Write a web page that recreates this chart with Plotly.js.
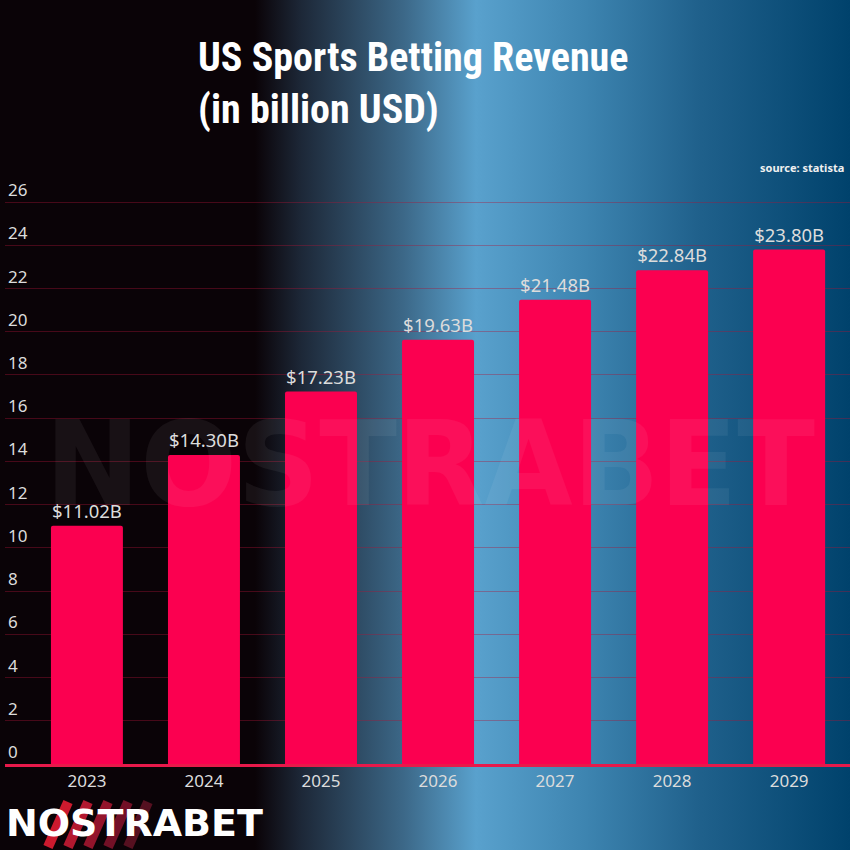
<!DOCTYPE html>
<html>
<head>
<meta charset="utf-8">
<script src="https://cdn.plot.ly/plotly-3.0.1.min.js"></script>
<style>
  html, body { margin: 0; padding: 0; }
  body {
    width: 850px; height: 850px; overflow: hidden;
    background: linear-gradient(to right,
      #0a0307 0%, #0a0307 30%, #1d2838 35.5%, #3c6888 47.5%,
      #59a1cd 56%, #3d84b0 69%, #20618c 82%, #00426c 100%);
  }
  #chart { width: 850px; height: 850px; }
</style>
</head>
<body>
<div id="chart"></div>
<script>
const years = ['2023', '2024', '2025', '2026', '2027', '2028', '2029'];
const revenue = [11.02, 14.30, 17.23, 19.63, 21.48, 22.84, 23.80];
const yTicks = [0, 2, 4, 6, 8, 10, 12, 14, 16, 18, 20, 22, 24, 26];

const barColor = '#fb0050';
const textColor = '#dcdcdc';
const baseFont = 'Noto Sans, Open Sans, sans-serif';

// plot geometry: y=0 at 764px, 26 at 202px
const pxPerUnit = (764 - 202) / 26;
const topPx = 174;
const yMax = 26 + (202 - topPx) / pxPerUnit;
const plotH = 764 - topPx;

const trace = {
  type: 'bar',
  x: years,
  y: revenue,
  width: 0.615,
  marker: { color: barColor, cornerradius: 2 },
  text: revenue.map(v => '$' + v.toFixed(2) + 'B'),
  textposition: 'outside',
  cliponaxis: false,
  textfont: { family: baseFont, size: 18.5, color: textColor },
  hoverinfo: 'skip'
};

// paper coordinate helpers
const px = x => (x - 5) / 845;
const py = y => (764 - y) / plotH;

// decorative red slashes behind the logo
const slashColors = ['#cc1a2e', '#b3182f', '#94142b', '#731026', '#551020'];
const shapes = slashColors.map((c, i) => ({
  type: 'line', xref: 'paper', yref: 'paper',
  x0: px(48 + i * 20), x1: px(68 + i * 20),
  y0: py(847), y1: py(802),
  line: { color: c, width: 10 }, layer: 'below'
}));

// faint watermark logo as an image
const wmSvg = '<svg xmlns="http://www.w3.org/2000/svg" width="780" height="110">' +
  '<text x="390" y="95" text-anchor="middle" font-family="DejaVu Sans, sans-serif" font-weight="bold" ' +
  'font-size="118" textLength="770" lengthAdjust="spacingAndGlyphs" fill="rgba(255,255,255,0.06)">NOSTRABET</text></svg>';

const layout = {
  width: 850, height: 850,
  paper_bgcolor: 'rgba(0,0,0,0)',
  plot_bgcolor: 'rgba(0,0,0,0)',
  margin: { l: 5, r: 0, t: topPx, b: 86 },
  showlegend: false,
  title: {
    text: 'US Sports Betting Revenue<br>(in billion USD)',
    x: 198 / 850, xref: 'container', xanchor: 'left',
    y: 1 - 71 / 850, yanchor: 'top', yref: 'container',
    font: { family: 'Liberation Sans Narrow, Roboto Condensed, Roboto, sans-serif', size: 40, color: '#ffffff', weight: 700 }
  },
  xaxis: {
    type: 'category',
    range: [-0.70, 6.52],
    showgrid: false,
    showline: true, linecolor: '#e8194a', linewidth: 3,
    ticks: '', zeroline: false,
    tickfont: { family: baseFont, size: 17, color: textColor },
    fixedrange: true
  },
  yaxis: {
    range: [0, yMax],
    tickvals: yTicks,
    ticktext: yTicks.map(String),
    ticklabelposition: 'inside top',
    tickfont: { family: baseFont, size: 17, color: textColor },
    showgrid: true, gridcolor: 'rgba(170,20,55,0.38)', gridwidth: 1,
    zeroline: false, showline: false, ticks: '',
    fixedrange: true
  },
  shapes: shapes,
  images: [{
    source: 'data:image/svg+xml;charset=utf-8,' + encodeURIComponent(wmSvg),
    xref: 'paper', yref: 'paper',
    x: px(40), y: py(410), sizex: 780 / 845, sizey: 110 / plotH,
    xanchor: 'left', yanchor: 'top', sizing: 'stretch', layer: 'above'
  }],
  annotations: [
    {
      text: 'source: statista', showarrow: false,
      xref: 'paper', yref: 'paper', x: px(846), y: py(167),
      xanchor: 'right', yanchor: 'middle',
      font: { family: baseFont, size: 11, color: '#f0f0f0', weight: 700 }
    },
    {
      text: 'NOSTRABET', showarrow: false,
      xref: 'paper', yref: 'paper', x: px(4), y: py(823),
      xanchor: 'left', yanchor: 'middle',
      font: { family: 'DejaVu Sans, sans-serif', size: 38, color: '#ffffff', weight: 700 }
    }
  ]
};

Plotly.newPlot('chart', [trace], layout, { displayModeBar: false, staticPlot: true });
</script>
</body>
</html>
